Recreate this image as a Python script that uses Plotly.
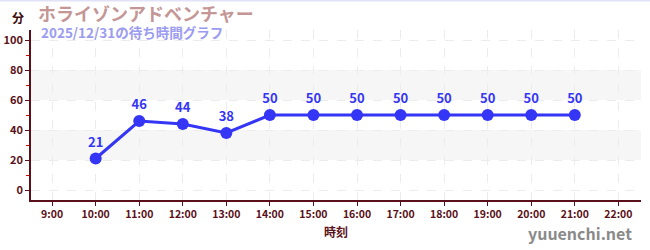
import plotly.graph_objects as go

times = ["10:00", "11:00", "12:00", "13:00", "14:00", "15:00", "16:00",
         "17:00", "18:00", "19:00", "20:00", "21:00"]
waits = [21, 46, 44, 38, 50, 50, 50, 50, 50, 50, 50, 50]
tick_hours = list(range(9, 23))
tick_labels = [f"{h}:00" for h in tick_hours]
title = "ホライゾンアドベンチャー"
subtitle = "2025/12/31の待ち時間グラフ"
unit = "分"
x_title = "時刻"
site = "yuuenchi.net"

FONT = "Noto Sans CJK JP"
AX = "#5a1018"
BLUE = "#3535f5"

x_vals = [int(t.split(":")[0]) for t in times]

fig = go.Figure()
fig.add_trace(go.Scatter(
    x=x_vals, y=waits, mode="lines+markers+text",
    line=dict(color=BLUE, width=3),
    marker=dict(color=BLUE, size=12),
    text=[str(v) for v in waits], textposition="top center",
    textfont=dict(family=FONT, size=13, color=BLUE, weight="bold"),
    cliponaxis=False, hoverinfo="skip",
))

shapes = []
for lo, hi in [(20, 40), (60, 80)]:
    shapes.append(dict(type="rect", xref="paper", yref="y", x0=0, x1=1, y0=lo, y1=hi,
                       fillcolor="#f6f6f6", line=dict(width=0), layer="below"))
shapes.append(dict(type="line", xref="paper", yref="paper",
                   x0=-31/610, x1=619/610, y0=199.5/170, y1=199.5/170,
                   line=dict(color="#e2e2f6", width=2)))

fig.update_layout(
    width=650, height=250,
    margin=dict(l=31, r=9, t=30, b=50, autoexpand=False),
    paper_bgcolor="white", plot_bgcolor="white",
    showlegend=False,
    shapes=shapes,
    font=dict(family=FONT, color=AX),
    xaxis=dict(
        range=[8.515, 22.52], tickvals=tick_hours, ticktext=tick_labels,
        automargin=False,
        showline=True, linecolor=AX, linewidth=1.5,
        ticks="outside", ticklen=4, tickcolor=AX,
        tickfont=dict(family=FONT, size=10.5, color=AX, weight="bold"),
        showgrid=True, gridcolor="#ececec", griddash="dash", gridwidth=1,
        zeroline=False,
        title=dict(text=x_title, font=dict(family=FONT, size=12, color=AX, weight="bold"), standoff=8),
    ),
    yaxis=dict(
        range=[-6.67, 106.67], tickvals=[0, 20, 40, 60, 80, 100],
        automargin=False,
        showline=True, linecolor=AX, linewidth=1.5,
        ticks="outside", ticklen=4, tickcolor=AX,
        tickfont=dict(family=FONT, size=11, color=AX, weight="bold"),
        showgrid=True, gridcolor="#ececec", griddash="dash", gridwidth=1,
        zeroline=False,
        minor=dict(ticks="outside", ticklen=3, tickcolor="#e00000", dtick=10, tick0=0, showgrid=False),
    ),
    annotations=[
        dict(text=unit, xref="paper", yref="paper", x=-13/610, y=(200-17)/170,
             xanchor="center", yanchor="middle", showarrow=False,
             font=dict(family=FONT, size=12, color="#3a0a0a", weight="bold")),
        dict(text=title, xref="paper", yref="paper", x=(36-31)/610, y=(200-12.5)/170,
             xanchor="left", yanchor="middle", showarrow=False, height=21,
             font=dict(family=FONT, size=18, color="#c49696", weight="bold")),
        dict(text=subtitle, xref="paper", yref="paper", x=(39-31)/610, y=(200-32.5)/170,
             xanchor="left", yanchor="middle", showarrow=False, height=16,
             font=dict(family=FONT, size=13.5, color="#9b9bf0", weight="bold")),
        dict(text=site, xref="paper", yref="paper", x=(634-31)/610, y=(200-233)/170,
             xanchor="right", yanchor="middle", showarrow=False,
             font=dict(family=FONT, size=16, color="#8a8a8a", weight="bold")),
    ],
)

fig.write_html("out.html")
